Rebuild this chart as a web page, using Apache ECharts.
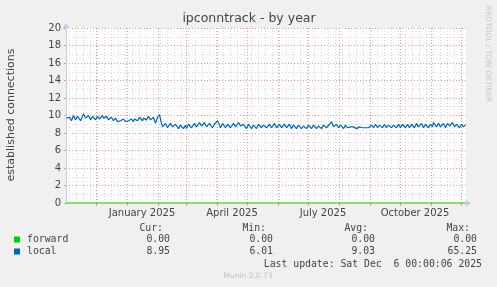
<!DOCTYPE html>
<html><head><meta charset="utf-8">
<script src="https://cdn.jsdelivr.net/npm/echarts@6/dist/echarts.min.js"></script>
<style>html,body{margin:0;padding:0;background:#f0f0f0}#c{width:497px;height:287px}</style>
</head><body><div id="c"></div>
<script>
// ---- texts ----
const chartTitle = 'ipconntrack - by year';
const yAxisName = 'established connections';
const sideText = 'RRDTOOL / TOBI OETIKER';
const xLabelTexts = ['January 2025', 'April 2025', 'July 2025', 'October 2025'];
const xLabelAt = [[2025, 0, 16], [2025, 3, 16], [2025, 6, 16], [2025, 9, 16]];
const yMin = 0, yMax = 20, yStep = 2;

// ---- time range ----
const rangeStart = Date.UTC(2024, 10, 1);
const rangeEnd = Date.UTC(2025, 11, 6, 0, 0, 6);

// ---- local: daily values per month ----
const local_2024_11 = [9.7,9.6,9.9,9.8,9.6,9.4,9.7,10.0,9.8,9.5,9.6,9.9,10.0,9.7,9.4,9.6,9.9,10.2,10.1,9.7,9.5,9.8,10.0,9.8,9.5,9.6,9.9,10.0,9.7,9.5];
const local_2024_12 = [9.7,9.9,9.8,9.6,9.5,9.8,10.0,9.7,9.5,9.6,9.9,9.8,9.5,9.4,9.7,9.8,9.6,9.4,9.5,9.7,9.6,9.3,9.4,9.5,9.4,9.3,9.5,9.6,9.4,9.3,9.4];
const local_2025_01 = [9.5,9.4,9.3,9.5,9.6,9.4,9.3,9.6,9.8,9.6,9.4,9.5,9.8,9.9,9.6,9.4,9.7,9.9,9.7,9.5,9.6,9.9,9.8,9.5,9.3,9.6,9.8,9.4,9.1,9.3,9.8];
const local_2025_02 = [10.0,10.1,9.6,9.1,8.7,8.5,8.9,9.1,8.9,8.6,8.5,8.8,9.1,9.0,8.7,8.5,8.7,9.0,9.1,8.8,8.5,8.6,8.9,9.1,8.8,8.5,8.6,8.9];
const local_2025_03 = [8.5,8.7,9.0,9.2,8.9,8.6,8.5,8.8,9.1,9.0,8.7,8.5,8.8,9.2,9.1,8.8,8.6,8.9,9.2,9.0,8.7,8.5,8.8,9.1,9.2,8.9,8.6,8.7,9.0,9.1,8.8];
const local_2025_04 = [9.4,9.2,8.9,8.6,8.8,9.1,9.2,8.9,8.6,8.7,9.0,9.2,8.9,8.6,8.5,8.8,9.1,9.0,8.7,8.5,8.8,9.2,9.1,8.8,8.6,8.7,9.0,9.1,8.8,8.5];
const local_2025_05 = [8.7,9.0,9.1,8.8,8.5,8.6,8.9,9.1,8.8,8.5,8.7,9.0,9.1,8.8,8.6,8.5,8.9,9.1,8.9,8.6,8.5,8.8,9.0,8.9,8.6,8.5,8.8,9.1,8.9,8.6,8.5];
const local_2025_06 = [8.8,9.0,8.9,8.6,8.4,8.7,9.0,8.9,8.6,8.5,8.8,9.0,8.8,8.5,8.6,8.9,9.0,8.7,8.5,8.6,8.9,9.1,8.8,8.5,8.6,8.8,9.0,8.8,8.5,8.6];
const local_2025_07 = [8.9,9.0,8.7,8.5,8.7,8.9,9.0,8.7,8.5,8.6,8.8,9.0,8.8,8.5,8.6,8.9,9.1,8.8,8.6,8.5,8.8,9.0,9.2,9.3,9.0,8.7,8.6,8.8,9.0,8.8,8.6];
const local_2025_08 = [8.7,8.9,9.0,8.7,8.5,8.7,8.9,8.8,8.6,8.7,8.8,8.7,8.6,8.6,8.7,8.6,8.6,8.5,8.6,8.6,8.7,8.6,8.6,8.6,8.7,8.6,8.6,8.7,8.7,8.6,8.7];
const local_2025_09 = [8.8,8.9,8.7,8.6,8.8,9.0,8.9,8.6,8.7,8.9,9.0,8.7,8.6,8.8,9.0,8.9,8.6,8.7,8.9,9.0,8.8,8.6,8.7,8.9,9.1,8.8,8.6,8.7,9.0,8.9];
const local_2025_10 = [8.6,8.7,9.0,9.1,8.8,8.6,8.8,9.0,8.9,8.6,8.7,9.0,9.1,8.8,8.6,8.8,9.1,9.0,8.7,8.6,8.9,9.1,8.9,8.6,8.7,9.0,9.1,8.8,8.6,8.8,9.0];
const local_2025_11 = [8.9,8.7,9.2,9.3,9.0,8.7,8.8,9.1,9.0,8.7,8.6,8.9,9.1,8.9,8.6,8.8,9.1,9.2,8.8,8.6,8.9,9.2,9.0,8.7,8.6,9.0,9.2,8.9,8.6,8.8];
const local_2025_12 = [9.0,8.8,8.7,8.9,8.95];
const localMonths = [
  [2024, 10, local_2024_11], [2024, 11, local_2024_12], [2025, 0, local_2025_01],
  [2025, 1, local_2025_02], [2025, 2, local_2025_03], [2025, 3, local_2025_04],
  [2025, 4, local_2025_05], [2025, 5, local_2025_06], [2025, 6, local_2025_07],
  [2025, 7, local_2025_08], [2025, 8, local_2025_09], [2025, 9, local_2025_10],
  [2025, 10, local_2025_11], [2025, 11, local_2025_12]
];
// forward is 0 over the whole range (first and last sample)
const forwardValues = [0.00, 0.00];

// ---- legend table ----
const legendNames = ['forward', 'local'];
const legendColors = ['#00cc00', '#0066b3'];
const legendCur = ['0.00', '8.95'];
const legendMin = ['0.00', '6.01'];
const legendAvg = ['0.00', '9.03'];
const legendMax = ['0.00', '65.25'];
const lastUpdate = 'Last update: Sat Dec  6 00:00:06 2025';
const muninVersion = 'Munin 2.0.73';

// ---- build ----
const localData = [];
localMonths.forEach(([y, m, arr]) => arr.forEach((v, i) => localData.push([Date.UTC(y, m, i + 1, 12), v])));
const forwardData = [[rangeStart, forwardValues[0]], [rangeEnd, forwardValues[1]]];

const monthStarts = [];
for (let k = 1; k <= 13; k++) monthStarts.push(Date.UTC(2024, 10 + k, 1));
const weekLines = [];
for (let t = Date.UTC(2024, 10, 4); t < rangeEnd; t += 7 * 86400000) weekLines.push(t);
const labelVals = xLabelAt.map(a => Date.UTC(a[0], a[1], a[2]));

const FONT = 'DejaVu Sans';
const MONO = 'DejaVu Sans Mono';
const RED = 'rgba(230,120,120,0.75)';
const GREY = '#d8d8d8';
const AXIS = '#c8c8f0';

const chart = echarts.init(document.getElementById('c'), null, {renderer: 'canvas'});

const graphics = [
  {type: 'text', style: {text: chartTitle, x: 249, y: 19, textAlign: 'center', textVerticalAlign: 'middle', font: '12.5px "' + FONT + '"', fill: '#444'}},
  {type: 'text', rotation: Math.PI / 2, x: 11, y: 115, style: {text: yAxisName, x: 0, y: 0, textAlign: 'center', textVerticalAlign: 'middle', font: '11px "' + FONT + '"', fill: '#444'}},
  {type: 'text', rotation: -Math.PI / 2, x: 488, y: 54, style: {text: sideText, x: 0, y: 0, textAlign: 'center', textVerticalAlign: 'middle', font: '7.5px "' + FONT + '"', fill: '#c8c8c8'}},
];
const colEnds = [170, 273, 375, 477];
const heads = ['Cur:', 'Min:', 'Avg:', 'Max:'];
heads.forEach((h, i) => graphics.push({type: 'text', style: {text: h, x: colEnds[i] - 7, y: 228, textAlign: 'right', textVerticalAlign: 'middle', font: '9.8px "' + MONO + '"', fill: '#444'}}));
const rowsY = [239.5, 251.5];
legendNames.forEach((n, r) => {
  graphics.push({type: 'rect', shape: {x: 14, y: rowsY[r] - 3, width: 6, height: 6}, style: {fill: legendColors[r]}});
  graphics.push({type: 'text', style: {text: n, x: 27, y: rowsY[r], textAlign: 'left', textVerticalAlign: 'middle', font: '9.8px "' + MONO + '"', fill: '#444'}});
  [legendCur, legendMin, legendAvg, legendMax].forEach((col, i) => graphics.push({type: 'text', style: {text: col[r], x: colEnds[i], y: rowsY[r], textAlign: 'right', textVerticalAlign: 'middle', font: '9.8px "' + MONO + '"', fill: '#444'}}));
});
graphics.push({type: 'text', style: {text: lastUpdate, x: 482, y: 264, textAlign: 'right', textVerticalAlign: 'middle', font: '9.8px "' + MONO + '"', fill: '#444'}});
graphics.push({type: 'text', style: {text: muninVersion, x: 248, y: 276.5, textAlign: 'center', textVerticalAlign: 'middle', font: '7.5px "' + FONT + '"', fill: '#c0c0c0'}});

chart.setOption({
  animation: false,
  backgroundColor: '#f0f0f0',
  grid: {left: 66, right: 31, top: 28, bottom: 84, show: true, backgroundColor: '#ffffff', borderWidth: 0},
  xAxis: [
    {type: 'value', min: rangeStart, max: rangeEnd, position: 'bottom',
     axisLine: {show: false}, axisLabel: {show: false},
     axisTick: {show: false, customValues: weekLines},
     splitLine: {show: true, lineStyle: {color: GREY, width: 1, type: [1, 2]}}},
    {type: 'value', min: rangeStart, max: rangeEnd, position: 'bottom',
     axisLine: {show: true, lineStyle: {color: AXIS, width: 1}, symbol: ['none', 'arrow'], symbolSize: [6, 6], symbolOffset: [0, 5]},
     axisTick: {show: true, length: 3, inside: false, lineStyle: {color: RED}, customValues: monthStarts},
     axisLabel: {show: true, customValues: labelVals, margin: 5, color: '#444', fontFamily: FONT, fontSize: 10,
       formatter: v => { const i = labelVals.indexOf(v); return i >= 0 ? xLabelTexts[i] : ''; }},
     splitLine: {show: true, lineStyle: {color: RED, width: 1, type: [1, 2]}}}
  ],
  yAxis: {type: 'value', min: yMin, max: yMax, interval: yStep,
    axisLine: {show: true, lineStyle: {color: AXIS, width: 1}, symbol: ['none', 'arrow'], symbolSize: [6, 6], symbolOffset: [0, 5]},
    axisTick: {show: true, length: 2, lineStyle: {color: RED}},
    axisLabel: {margin: 5, color: '#444', fontFamily: FONT, fontSize: 10},
    splitLine: {show: true, lineStyle: {color: RED, width: 1, type: [1, 2]}},
    minorTick: {show: false, splitNumber: 2},
    minorSplitLine: {show: true, lineStyle: {color: GREY, width: 1, type: [1, 2]}}},
  graphic: graphics,
  series: [
    {name: 'forward', type: 'line', xAxisIndex: 1, data: forwardData, showSymbol: false, lineStyle: {color: '#00cc00', width: 1}, itemStyle: {color: '#00cc00'}, z: 3},
    {name: 'local', type: 'line', xAxisIndex: 1, data: localData, showSymbol: false, lineStyle: {color: '#0066b3', width: 1.2}, itemStyle: {color: '#0066b3'}, z: 4}
  ]
});
</script></body></html>
